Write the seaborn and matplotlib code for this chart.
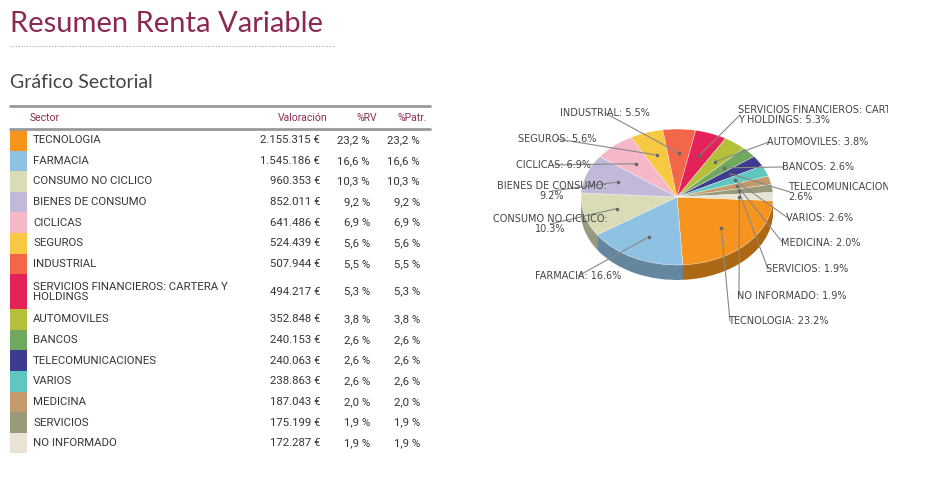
import numpy as np
import matplotlib
matplotlib.use("Agg")
import matplotlib.pyplot as plt
import seaborn as sns
from matplotlib.patches import Rectangle
import matplotlib.colors as mcolors

sectors = ["TECNOLOGIA", "FARMACIA", "CONSUMO NO CICLICO", "BIENES DE CONSUMO", "CICLICAS",
           "SEGUROS", "INDUSTRIAL", "SERVICIOS FINANCIEROS: CARTERA Y\nHOLDINGS", "AUTOMOVILES",
           "BANCOS", "TELECOMUNICACIONES", "VARIOS", "MEDICINA", "SERVICIOS", "NO INFORMADO"]
valoracion = ["2.155.315 €", "1.545.186 €", "960.353 €", "852.011 €", "641.486 €", "524.439 €",
              "507.944 €", "494.217 €", "352.848 €", "240.153 €", "240.063 €", "238.863 €",
              "187.043 €", "175.199 €", "172.287 €"]
pct_rv = [23.2, 16.6, 10.3, 9.2, 6.9, 5.6, 5.5, 5.3, 3.8, 2.6, 2.6, 2.6, 2.0, 1.9, 1.9]
pct_patr = [23.2, 16.6, 10.3, 9.2, 6.9, 5.6, 5.5, 5.3, 3.8, 2.6, 2.6, 2.6, 2.0, 1.9, 1.9]
pie_labels = ["TECNOLOGIA: 23.2%", "FARMACIA: 16.6%", "CONSUMO NO CICLICO:\n10.3%",
              "BIENES DE CONSUMO:\n9.2%", "CICLICAS: 6.9%", "SEGUROS: 5.6%", "INDUSTRIAL: 5.5%",
              "SERVICIOS FINANCIEROS: CARTERA\nY HOLDINGS: 5.3%", "AUTOMOVILES: 3.8%",
              "BANCOS: 2.6%", "TELECOMUNICACIONES:\n2.6%", "VARIOS: 2.6%", "MEDICINA: 2.0%",
              "SERVICIOS: 1.9%", "NO INFORMADO: 1.9%"]
colors = ["#f7941d", "#8fc1e3", "#d9dcb5", "#c2b9da", "#f5b8c8", "#f7c842", "#f26649", "#e5215a",
          "#b5c03a", "#6fa85e", "#3d3b8e", "#5fc6c0", "#c49a6c", "#9a9a7a", "#e8e3d3"]

sns.set_theme(style="white")
W, H = 930, 478
fig = plt.figure(figsize=(9.3, 4.78), dpi=100)
fig.patch.set_facecolor("white")

# pie (drawn first, beneath the overlay)
cx, cy, rx, ry, depth = 677, 197, 96, 68, 15
pax = fig.add_axes([(cx - rx) / W, 1 - (cy + ry + depth) / H, 2 * rx / W, (2 * ry + depth) / H])
pax.patch.set_alpha(0)
dark = [tuple(np.array(mcolors.to_rgb(c)) * 0.7) for c in colors]
for k in range(depth, 0, -1):
    pax.pie(pct_rv, colors=dark, startangle=-3, counterclock=False, center=(0, -k / ry),
            wedgeprops=dict(lw=0))
wedges, _ = pax.pie(pct_rv, colors=colors, startangle=-3, counterclock=False,
                    wedgeprops=dict(lw=0.3, edgecolor="white"))
pax.set_aspect("auto"); pax.set_xlim(-1, 1); pax.set_ylim(-1 - depth / ry, 1)
pax.axis("off")

ov = fig.add_axes([0, 0, 888 / W, 1])
ov.set_zorder(5); ov.patch.set_alpha(0)
ov.set_xlim(0, 888); ov.set_ylim(H, 0); ov.axis("off")

maroon = "#8b2a4e"
ov.text(10, 24, "Resumen Renta Variable", fontsize=21, color=maroon, va="center",
        fontfamily="Lato")
ov.plot([10, 335], [46, 46], color="#aaaaaa", lw=0.8, ls=(0, (1, 1.5)))
ov.text(10, 82, "Gráfico Sectorial", fontsize=14, color="#444444", va="center",
        fontfamily="Lato")

# table
ov.plot([10, 430], [106, 106], color="#999999", lw=2)
ov.plot([10, 430], [129, 129], color="#999999", lw=2)
hkw = dict(fontsize=7.5, color=maroon, va="center", fontfamily="Roboto")
ov.text(30, 118, "Sector", **hkw)
ov.text(327, 118, "Valoración", ha="right", **hkw)
ov.text(377, 118, "%RV", ha="right", **hkw)
ov.text(427, 118, "%Patr.", ha="right", **hkw)
heights = [20.6 if "\n" not in s else 35 for s in sectors]
tk = dict(fontsize=8.2, color="#333333", va="center", fontfamily="Roboto")
y = 130
for s, v, r, p, c, h in zip(sectors, valoracion, pct_rv, pct_patr, colors, heights):
    ov.add_patch(Rectangle((10, y), 17, h, color=c, lw=0))
    yc = y + h / 2
    ov.text(33, yc, s, linespacing=1.0, **tk)
    ov.text(320, yc, v, ha="right", **tk)
    ov.text(370, yc, f"{r:.1f} %".replace(".", ","), ha="right", **tk)
    ov.text(420, yc, f"{p:.1f} %".replace(".", ","), ha="right", **tk)
    y += h

label_pos = [(728, 321, "left"), (578, 276, "center"), (550, 224, "center"),
             (552, 191, "center"), (553, 165, "center"), (557, 139, "center"),
             (605, 113, "center"), (738, 115, "left"), (767, 142, "left"),
             (782, 167, "left"), (788, 192, "left"), (786, 218, "left"),
             (781, 243, "left"), (766, 269, "left"), (737, 296, "left")]
for w, lab, (lx, ly, ha) in zip(wedges, pie_labels, label_pos):
    a = np.deg2rad((w.theta1 + w.theta2) / 2)
    px, py = cx + 0.65 * rx * np.cos(a), cy - 0.65 * ry * np.sin(a)
    ov.plot([px, lx + (2 if ha == "left" else 0)], [py, ly], color="#888888", lw=0.8)
    ov.plot([px], [py], marker="o", ms=1.5, color="#666666")
    ov.text(lx, ly, lab, fontsize=7, color="#444444", ha=ha, va="center",
            linespacing=1.1, clip_on=True, fontfamily="DejaVu Sans")

fig.savefig("out.png", dpi=100)
